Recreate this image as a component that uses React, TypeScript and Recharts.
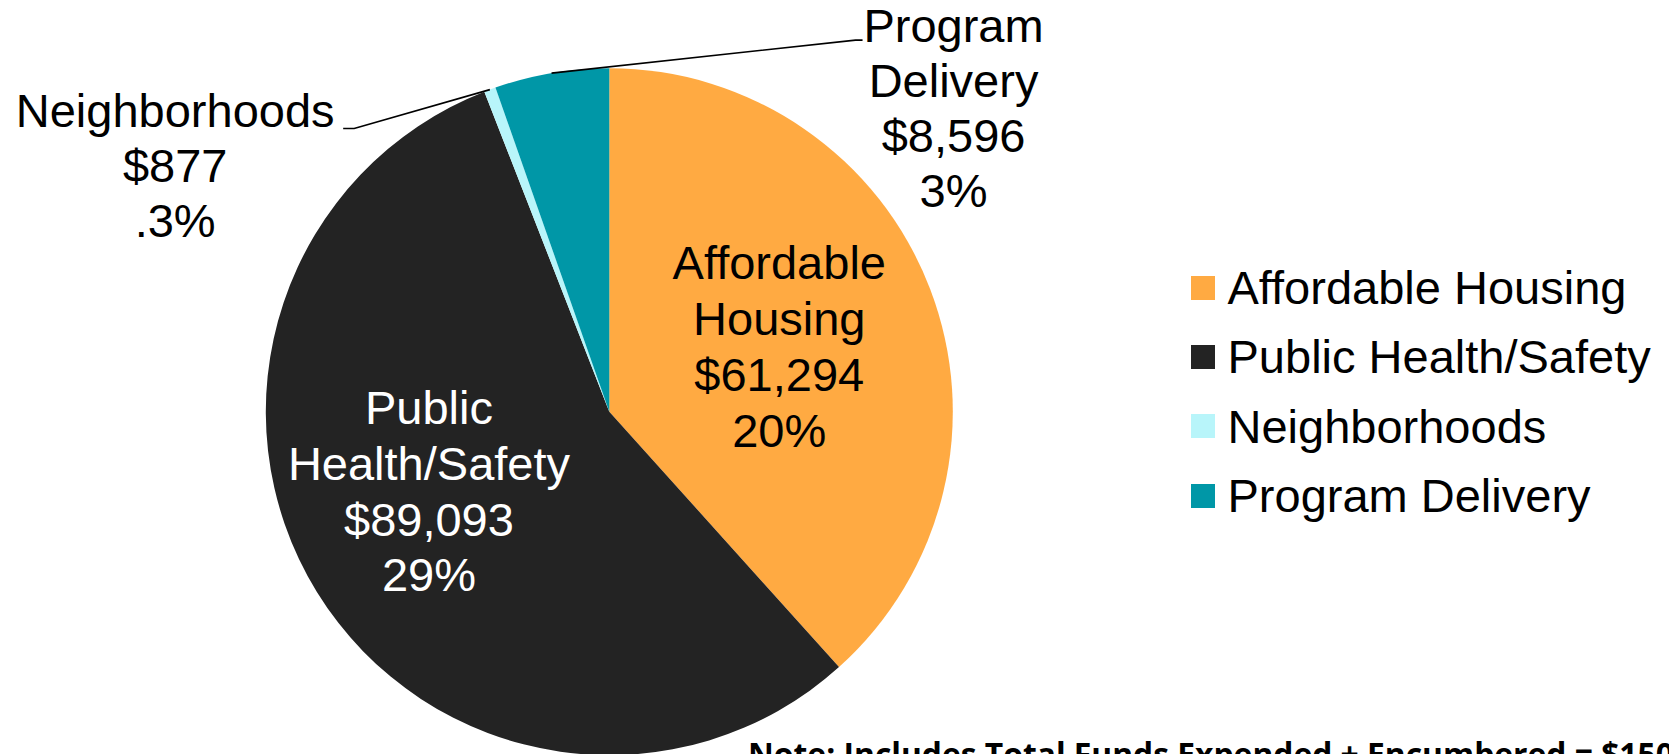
import { PieChart, Pie, Cell, Legend } from 'recharts';

const CATEGORIES = ['Affordable Housing', 'Public Health/Safety', 'Neighborhoods', 'Program Delivery'];
const AMOUNTS = [61294, 89093, 877, 8596];
const AMOUNT_LABELS = ['$61,294', '$89,093', '$877', '$8,596'];
const SHARE_LABELS = ['20%', '29%', '.3%', '3%'];
const NAME_LINES = [['Affordable', 'Housing'], ['Public', 'Health/Safety'], ['Neighborhoods'], ['Program', 'Delivery']];
const NOTE = 'Note: Includes Total Funds Expended + Encumbered = $150 Million';

const COLORS = ['#FFAA42', '#232323', '#B8F5FA', '#0097A7'];
const FONT = '"Liberation Sans", Arial, sans-serif';
const FONT_SIZE = 47;
const RAD = Math.PI / 180;

// inside labels sit on a polar point, outside ones get a leader line
const LABEL_LAYOUT: any[] = [
  { inside: true, r: 0.53, da: 0, color: '#000', lineH: 55.7 },
  { inside: true, r: 0.574, da: -7.8, color: '#fff', lineH: 55.7 },
  { inside: false, elbow: [-135.7, 38.8], endDx: -11, textDx: -168, baseDy: -1, lineH: 55 },
  { inside: false, elbow: [304, -33], endDx: 7, textDx: 91, baseDy: 2, lineH: 55 },
];

const chartData = CATEGORIES.map((name, i) => ({ name, value: AMOUNTS[i], fill: COLORS[i] }));

function renderLabel(props: any) {
  const { cx, cy, midAngle, outerRadius, index } = props;
  const lay = LABEL_LAYOUT[index];
  const lines = [...NAME_LINES[index], AMOUNT_LABELS[index], SHARE_LABELS[index]];

  if (lay.inside) {
    const a = (midAngle + lay.da) * RAD;
    const x = cx + outerRadius * lay.r * Math.cos(a);
    const y = cy - outerRadius * lay.r * Math.sin(a);
    const firstBase = y - ((lines.length - 1) * lay.lineH) / 2 + 16.5;
    return (
      <text key={`lbl-${index}`} fill={lay.color} fontFamily={FONT} fontSize={FONT_SIZE} textAnchor="middle">
        {lines.map((l, i) => (
          <tspan key={i} x={x} y={firstBase + i * lay.lineH}>{l}</tspan>
        ))}
      </text>
    );
  }

  const a = midAngle * RAD;
  const px = cx + outerRadius * Math.cos(a);
  const py = cy - outerRadius * Math.sin(a);
  const ex = px + lay.elbow[0];
  const ey = py + lay.elbow[1];
  const endX = ex + lay.endDx;
  const tx = endX + lay.textDx;
  const firstBase = ey + lay.baseDy;
  return (
    <g key={`lbl-${index}`}>
      <polyline points={`${px},${py} ${ex},${ey} ${endX},${ey}`} fill="none" stroke="#000" strokeWidth={1.6} />
      <text fill="#000" fontFamily={FONT} fontSize={FONT_SIZE} textAnchor="middle">
        {lines.map((l, i) => (
          <tspan key={i} x={tx} y={firstBase + i * lay.lineH}>{l}</tspan>
        ))}
      </text>
    </g>
  );
}

function renderLegend(props: any) {
  const payload = [...(props.payload || [])].sort(
    (a: any, b: any) => CATEGORIES.indexOf(a.value) - CATEGORIES.indexOf(b.value),
  );
  return (
    <div style={{ fontFamily: FONT, fontSize: FONT_SIZE, color: '#000' }}>
      {payload.map((entry: any) => {
        const idx = CATEGORIES.indexOf(entry.value);
        return (
          <div key={entry.value} style={{ height: 69.3, display: 'flex', alignItems: 'center', whiteSpace: 'nowrap' }}>
            <span style={{ width: 24, height: 24, background: COLORS[idx], marginRight: 12.5, flex: 'none' }} />
            <span style={{ lineHeight: 1 }}>{entry.value}</span>
          </div>
        );
      })}
    </div>
  );
}

export default function App() {
  return (
    <div style={{ position: 'relative', width: 1669, height: 754, overflow: 'hidden', background: '#fff' }}>
      <style>{'body{margin:0}'}</style>
      <PieChart width={1669} height={754} margin={{ top: 0, right: 0, bottom: 0, left: 0 }}>
        <Pie
          data={chartData}
          dataKey="value"
          nameKey="name"
          cx={609.3}
          cy={411.7}
          outerRadius={343.5}
          startAngle={90}
          endAngle={-270}
          stroke="none"
          label={renderLabel}
          labelLine={false}
          isAnimationActive={false}
        >
          {chartData.map((d, i) => (
            <Cell key={d.name} fill={COLORS[i]} />
          ))}
        </Pie>
        <Legend
          layout="vertical"
          align="right"
          verticalAlign="top"
          wrapperStyle={{ left: 1191, top: 253, width: 478 }}
          content={renderLegend}
        />
      </PieChart>
      <div
        style={{
          position: 'absolute',
          left: 748,
          top: 737.5,
          fontFamily: '"Open Sans", sans-serif',
          fontWeight: 700,
          fontSize: 31.8,
          lineHeight: 1,
          whiteSpace: 'nowrap',
          color: '#000',
        }}
      >
        {NOTE}
      </div>
    </div>
  );
}
